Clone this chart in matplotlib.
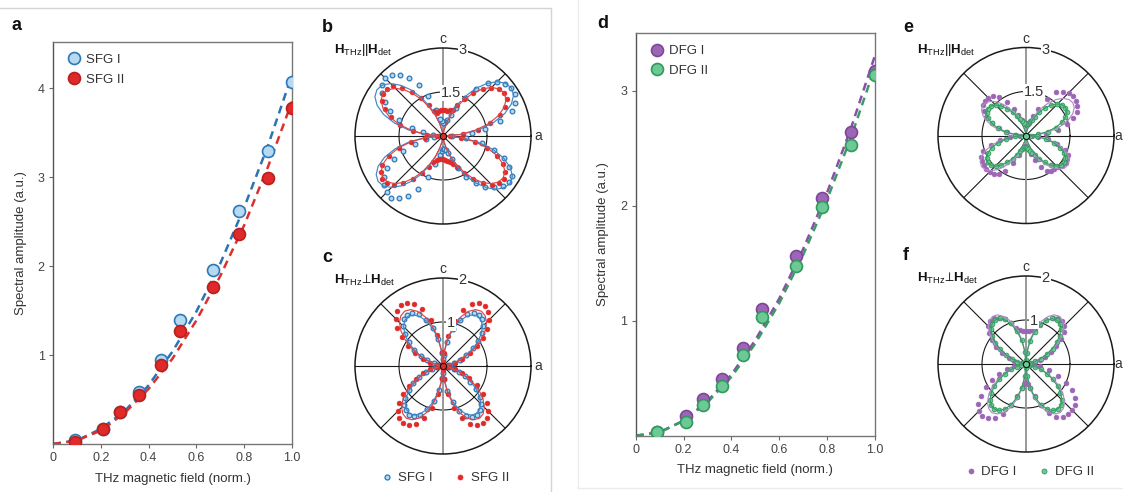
import numpy as np
import matplotlib
matplotlib.use("Agg")
import matplotlib.pyplot as plt
from matplotlib.lines import Line2D

plt.rcParams['font.family'] = ['Liberation Sans', 'DejaVu Sans']
plt.rcParams['mathtext.fontset'] = 'custom'
plt.rcParams['mathtext.rm'] = 'Liberation Sans'
plt.rcParams['mathtext.bf'] = 'Liberation Sans:bold'
plt.rcParams['mathtext.it'] = 'Liberation Sans:italic'
plt.rcParams['mathtext.fallback'] = 'stixsans'

# ---------------- field dependence (panels a and d) ----------------
field = [0.09, 0.21, 0.28, 0.36, 0.45, 0.53, 0.67, 0.78, 0.90, 1.00]
sfg1_amp = [0.04, 0.17, 0.36, 0.59, 0.95, 1.39, 1.96, 2.62, 3.30, 4.07]
sfg2_amp = [0.02, 0.17, 0.36, 0.55, 0.89, 1.27, 1.76, 2.36, 2.99, 3.78]
dfg1_amp = [0.03, 0.17, 0.32, 0.49, 0.76, 1.10, 1.56, 2.07, 2.64, 3.17]
dfg2_amp = [0.03, 0.12, 0.27, 0.43, 0.70, 1.03, 1.48, 1.99, 2.53, 3.14]

# fitted curves, sampled along the field axis
fit_field = [0.0, 0.1, 0.2, 0.3, 0.4, 0.5, 0.6, 0.7, 0.8, 0.9, 1.0]
sfg1_fit = [0.00, 0.04, 0.17, 0.37, 0.66, 1.04, 1.49, 2.03, 2.66, 3.36, 4.15]
sfg2_fit = [0.00, 0.04, 0.15, 0.35, 0.62, 0.96, 1.39, 1.89, 2.46, 3.12, 3.85]
dfg1_fit = [0.00, 0.03, 0.13, 0.30, 0.53, 0.83, 1.19, 1.62, 2.11, 2.67, 3.30]
dfg2_fit = [0.00, 0.03, 0.13, 0.29, 0.51, 0.80, 1.15, 1.57, 2.05, 2.59, 3.20]

field_ticks = [0, 0.2, 0.4, 0.6, 0.8, 1.0]
field_ticklabels = ['0', '0.2', '0.4', '0.6', '0.8', '1.0']

# ---------------- polarization dependence (panels b, c, e, f) ----------------
# azimuth of the detected field, degrees (5 degree steps)
angle_deg = np.arange(0, 360, 5)

# b: SFG, H_THz || H_det
b_sfg1 = [0.30, 1.00, 1.45, 2.00, 2.50, 2.70, 2.84, 2.85, 2.75, 2.60, 2.38, 1.95, 1.50, 1.05, 0.75, 0.55, 0.48, 0.45,
          0.45, 0.50, 0.60, 0.90, 1.45, 1.90, 2.30, 2.55, 2.72, 2.78, 2.72, 2.55, 2.30, 2.00, 1.60, 1.10, 0.70, 0.35,
          0.10, 0.30, 0.60, 1.00, 1.45, 1.85, 2.20, 2.45, 2.62, 2.72, 2.74, 2.60, 2.38, 2.00, 1.50, 1.00, 0.65, 0.50,
          0.45, 0.45, 0.50, 0.60, 0.85, 1.20, 1.60, 1.95, 2.25, 2.45, 2.65, 2.75, 2.70, 2.50, 2.20, 1.80, 1.35, 0.80]
b_sfg2 = [0.25, 0.70, 1.20, 1.65, 2.05, 2.35, 2.50, 2.55, 2.50, 2.30, 2.10, 1.80, 1.45, 1.15, 0.95, 0.90, 0.88, 0.90,
          0.90, 0.88, 0.85, 0.80, 0.90, 1.15, 1.50, 1.85, 2.15, 2.40, 2.50, 2.50, 2.40, 2.20, 1.90, 1.50, 1.05, 0.55,
          0.20, 0.60, 1.10, 1.55, 1.95, 2.30, 2.45, 2.55, 2.50, 2.35, 2.10, 1.80, 1.45, 1.15, 0.95, 0.85, 0.80, 0.80,
          0.80, 0.82, 0.85, 0.90, 1.00, 1.15, 1.45, 1.80, 2.10, 2.35, 2.50, 2.55, 2.45, 2.25, 1.95, 1.55, 1.10, 0.60]
b_sfg1_fit = [0.00, 0.64, 1.25, 1.79, 2.24, 2.57, 2.78, 2.85, 2.79, 2.62, 2.34, 2.00, 1.60, 1.20, 0.82, 0.48, 0.22, 0.06,
              0.00, 0.06, 0.21, 0.46, 0.79, 1.16, 1.55, 1.93, 2.26, 2.53, 2.70, 2.75, 2.68, 2.48, 2.16, 1.72, 1.20, 0.62,
              0.00, 0.61, 1.18, 1.69, 2.12, 2.44, 2.63, 2.70, 2.65, 2.48, 2.22, 1.89, 1.52, 1.14, 0.77, 0.45, 0.21, 0.05,
              0.00, 0.06, 0.22, 0.47, 0.80, 1.18, 1.57, 1.96, 2.30, 2.57, 2.74, 2.80, 2.73, 2.53, 2.20, 1.76, 1.22, 0.63]
b_sfg2_fit = [0.00, 0.57, 1.11, 1.60, 2.00, 2.30, 2.48, 2.55, 2.50, 2.34, 2.10, 1.79, 1.43, 1.07, 0.73, 0.43, 0.20, 0.05,
              0.00, 0.05, 0.19, 0.42, 0.72, 1.05, 1.41, 1.75, 2.06, 2.30, 2.45, 2.50, 2.44, 2.26, 1.96, 1.57, 1.09, 0.56,
              0.00, 0.56, 1.09, 1.57, 1.96, 2.26, 2.44, 2.50, 2.45, 2.30, 2.06, 1.75, 1.41, 1.05, 0.72, 0.42, 0.19, 0.05,
              0.00, 0.05, 0.19, 0.42, 0.72, 1.05, 1.41, 1.75, 2.06, 2.30, 2.45, 2.50, 2.44, 2.26, 1.96, 1.57, 1.09, 0.56]

# c: SFG, H_THz perp H_det
c_sfg1 = [0.15, 0.12, 0.15, 0.25, 0.40, 0.58, 0.80, 0.98, 1.15, 1.28, 1.38, 1.42, 1.40, 1.30, 1.12, 0.88, 0.55, 0.25,
          0.15, 0.30, 0.62, 0.90, 1.12, 1.30, 1.40, 1.42, 1.38, 1.28, 1.12, 0.95, 0.75, 0.55, 0.38, 0.22, 0.15, 0.12,
          0.15, 0.12, 0.15, 0.25, 0.42, 0.60, 0.78, 0.95, 1.12, 1.25, 1.32, 1.35, 1.32, 1.22, 1.05, 0.82, 0.55, 0.28,
          0.15, 0.30, 0.58, 0.85, 1.08, 1.25, 1.33, 1.36, 1.32, 1.22, 1.10, 0.92, 0.72, 0.55, 0.38, 0.25, 0.15, 0.12]
c_sfg2 = [0.10, 0.08, 0.12, 0.28, 0.45, 0.68, 0.90, 1.12, 1.32, 1.48, 1.60, 1.66, 1.65, 1.55, 1.35, 1.05, 0.70, 0.30,
          0.10, 0.32, 0.72, 1.08, 1.38, 1.55, 1.65, 1.68, 1.62, 1.50, 1.35, 1.15, 0.92, 0.70, 0.48, 0.30, 0.15, 0.10,
          0.10, 0.10, 0.15, 0.30, 0.48, 0.68, 0.90, 1.12, 1.30, 1.45, 1.55, 1.58, 1.55, 1.45, 1.25, 0.98, 0.65, 0.30,
          0.10, 0.30, 0.65, 0.98, 1.25, 1.45, 1.55, 1.58, 1.55, 1.45, 1.30, 1.10, 0.88, 0.66, 0.45, 0.28, 0.14, 0.10]
c_sfg1_fit = [0.00, 0.03, 0.11, 0.23, 0.39, 0.58, 0.78, 0.97, 1.13, 1.27, 1.35, 1.38, 1.34, 1.24, 1.08, 0.87, 0.60, 0.31,
              0.00, 0.31, 0.60, 0.87, 1.08, 1.24, 1.34, 1.38, 1.35, 1.27, 1.13, 0.97, 0.78, 0.58, 0.39, 0.23, 0.11, 0.03,
              0.00, 0.03, 0.10, 0.22, 0.38, 0.56, 0.74, 0.92, 1.09, 1.21, 1.29, 1.32, 1.29, 1.19, 1.04, 0.83, 0.58, 0.30,
              0.00, 0.30, 0.58, 0.83, 1.04, 1.19, 1.29, 1.32, 1.29, 1.21, 1.09, 0.92, 0.74, 0.56, 0.38, 0.22, 0.10, 0.03]
c_sfg2_fit = [0.00, 0.03, 0.12, 0.26, 0.43, 0.64, 0.85, 1.06, 1.25, 1.40, 1.49, 1.52, 1.48, 1.37, 1.19, 0.95, 0.66, 0.34,
              0.00, 0.34, 0.66, 0.95, 1.19, 1.37, 1.48, 1.52, 1.49, 1.40, 1.25, 1.06, 0.85, 0.64, 0.43, 0.26, 0.12, 0.03,
              0.00, 0.03, 0.11, 0.24, 0.41, 0.61, 0.81, 1.02, 1.19, 1.33, 1.42, 1.45, 1.41, 1.31, 1.14, 0.91, 0.63, 0.33,
              0.00, 0.33, 0.63, 0.91, 1.14, 1.31, 1.41, 1.45, 1.42, 1.33, 1.19, 1.02, 0.81, 0.61, 0.41, 0.24, 0.11, 0.03]

# e: DFG, H_THz || H_det
e_dfg1 = [0.20, 0.70, 1.10, 1.45, 1.72, 1.90, 2.00, 2.08, 2.10, 2.05, 1.95, 1.80, 1.45, 1.00, 0.70, 0.50, 0.40, 0.35,
          0.35, 0.40, 0.45, 0.55, 0.75, 1.00, 1.30, 1.60, 1.76, 1.82, 1.84, 1.80, 1.65, 1.50, 1.25, 0.95, 0.65, 0.35,
          0.20, 0.55, 0.90, 1.25, 1.55, 1.70, 1.74, 1.76, 1.76, 1.75, 1.70, 1.62, 1.40, 1.05, 0.70, 0.45, 0.38, 0.35,
          0.35, 0.40, 0.50, 0.65, 0.90, 1.20, 1.40, 1.46, 1.50, 1.54, 1.60, 1.65, 1.62, 1.57, 1.40, 1.10, 0.75, 0.40]
e_dfg2 = [0.15, 0.40, 0.75, 1.05, 1.30, 1.48, 1.60, 1.64, 1.60, 1.50, 1.35, 1.15, 0.92, 0.70, 0.55, 0.45, 0.42, 0.40,
          0.40, 0.42, 0.45, 0.50, 0.60, 0.75, 0.92, 1.12, 1.30, 1.45, 1.55, 1.58, 1.55, 1.42, 1.25, 1.00, 0.70, 0.38,
          0.15, 0.38, 0.70, 1.00, 1.25, 1.42, 1.55, 1.58, 1.55, 1.45, 1.30, 1.12, 0.92, 0.72, 0.58, 0.48, 0.42, 0.40,
          0.40, 0.42, 0.48, 0.55, 0.62, 0.75, 0.92, 1.12, 1.30, 1.45, 1.55, 1.58, 1.55, 1.42, 1.25, 1.00, 0.70, 0.38]
e_dfg1_fit = [0.00, 0.44, 0.85, 1.22, 1.53, 1.76, 1.90, 1.95, 1.91, 1.79, 1.60, 1.37, 1.10, 0.82, 0.56, 0.33, 0.15, 0.04,
              0.00, 0.04, 0.14, 0.30, 0.51, 0.76, 1.01, 1.26, 1.48, 1.65, 1.76, 1.80, 1.75, 1.62, 1.41, 1.13, 0.79, 0.41,
              0.00, 0.42, 0.81, 1.16, 1.45, 1.67, 1.80, 1.85, 1.81, 1.70, 1.52, 1.30, 1.04, 0.78, 0.53, 0.31, 0.14, 0.04,
              0.00, 0.04, 0.13, 0.29, 0.50, 0.74, 0.98, 1.23, 1.44, 1.61, 1.72, 1.75, 1.70, 1.58, 1.37, 1.10, 0.76, 0.39]
e_dfg2_fit = [0.00, 0.37, 0.72, 1.03, 1.30, 1.49, 1.61, 1.65, 1.62, 1.52, 1.36, 1.16, 0.93, 0.69, 0.47, 0.28, 0.13, 0.03,
              0.00, 0.03, 0.12, 0.27, 0.46, 0.67, 0.90, 1.12, 1.32, 1.47, 1.57, 1.60, 1.56, 1.44, 1.26, 1.00, 0.70, 0.36,
              0.00, 0.36, 0.70, 1.00, 1.26, 1.44, 1.56, 1.60, 1.57, 1.47, 1.32, 1.12, 0.90, 0.67, 0.46, 0.27, 0.12, 0.03,
              0.00, 0.03, 0.12, 0.27, 0.46, 0.67, 0.90, 1.12, 1.32, 1.47, 1.57, 1.60, 1.56, 1.44, 1.26, 1.00, 0.70, 0.36]

# f: DFG, H_THz perp H_det
f_dfg1 = [0.10, 0.12, 0.20, 0.32, 0.45, 0.62, 0.80, 0.98, 1.12, 1.22, 1.28, 1.28, 1.22, 1.10, 0.95, 0.82, 0.78, 0.76,
          0.75, 0.76, 0.78, 0.85, 0.98, 1.12, 1.22, 1.28, 1.28, 1.22, 1.10, 0.95, 0.78, 0.60, 0.42, 0.28, 0.18, 0.12,
          0.10, 0.15, 0.28, 0.45, 0.65, 0.85, 1.05, 1.25, 1.42, 1.52, 1.54, 1.50, 1.42, 1.25, 1.00, 0.75, 0.55, 0.45,
          0.40, 0.45, 0.55, 0.75, 1.00, 1.22, 1.38, 1.46, 1.49, 1.48, 1.45, 1.36, 1.20, 1.00, 0.78, 0.55, 0.32, 0.18]
f_dfg2 = [0.08, 0.08, 0.12, 0.22, 0.36, 0.52, 0.70, 0.86, 1.00, 1.12, 1.20, 1.23, 1.20, 1.10, 0.96, 0.76, 0.52, 0.25,
          0.10, 0.28, 0.55, 0.78, 0.98, 1.12, 1.20, 1.23, 1.20, 1.12, 1.00, 0.85, 0.68, 0.50, 0.34, 0.20, 0.10, 0.08,
          0.08, 0.08, 0.12, 0.22, 0.36, 0.52, 0.70, 0.88, 1.03, 1.15, 1.22, 1.25, 1.22, 1.12, 0.98, 0.78, 0.55, 0.28,
          0.10, 0.28, 0.55, 0.78, 0.98, 1.12, 1.22, 1.25, 1.22, 1.15, 1.02, 0.88, 0.70, 0.52, 0.36, 0.22, 0.10, 0.08]
f_dfg1_fit = [0.00, 0.03, 0.10, 0.22, 0.38, 0.56, 0.74, 0.92, 1.09, 1.21, 1.29, 1.32, 1.29, 1.19, 1.04, 0.83, 0.58, 0.30,
              0.00, 0.30, 0.58, 0.83, 1.04, 1.19, 1.29, 1.32, 1.29, 1.21, 1.09, 0.92, 0.74, 0.56, 0.38, 0.22, 0.10, 0.03,
              0.00, 0.03, 0.10, 0.23, 0.39, 0.57, 0.76, 0.95, 1.11, 1.24, 1.32, 1.35, 1.31, 1.22, 1.06, 0.85, 0.59, 0.30,
              0.00, 0.30, 0.59, 0.85, 1.06, 1.22, 1.31, 1.35, 1.32, 1.24, 1.11, 0.95, 0.76, 0.57, 0.39, 0.23, 0.10, 0.03]
f_dfg2_fit = [0.00, 0.02, 0.09, 0.20, 0.35, 0.51, 0.69, 0.85, 1.00, 1.12, 1.20, 1.22, 1.19, 1.10, 0.96, 0.76, 0.53, 0.27,
              0.00, 0.27, 0.53, 0.76, 0.96, 1.10, 1.19, 1.22, 1.20, 1.12, 1.00, 0.85, 0.69, 0.51, 0.35, 0.20, 0.09, 0.02,
              0.00, 0.03, 0.10, 0.21, 0.36, 0.53, 0.70, 0.88, 1.03, 1.15, 1.23, 1.25, 1.22, 1.13, 0.98, 0.78, 0.55, 0.28,
              0.00, 0.28, 0.55, 0.78, 0.98, 1.13, 1.22, 1.25, 1.23, 1.15, 1.03, 0.88, 0.70, 0.53, 0.36, 0.21, 0.10, 0.03]

# ---------------- colours ----------------
BLUE_EDGE, BLUE_FILL, BLUE_LINE = '#2e78b7', '#b5daf2', '#3f86c6'
RED, RED_EDGE, RED_LINE = '#e02a2a', '#b81f1f', '#e04444'
PURPLE, PURPLE_EDGE, PURPLE_LINE = '#9d65b5', '#7d4698', '#b48ac9'
GREEN, GREEN_EDGE, GREEN_LINE = '#6cc895', '#2f9a5a', '#33a062'
TXT = '#333333'

W, H = 1123, 492
fig = plt.figure(figsize=(W / 100, H / 100), dpi=100)


def px_rect(x0, y0, x1, y1):
    return [x0 / W, 1 - y1 / H, (x1 - x0) / W, (y1 - y0) / H]


def fx(x):
    return x / W


def fy(y):
    return 1 - y / H


# panel frames
fig.add_artist(Line2D([0, fx(551)], [fy(8.3), fy(8.3)], color='#d4d4d4', lw=1))
fig.add_artist(Line2D([fx(551), fx(551)], [fy(8.3), 0], color='#d4d4d4', lw=1))
fig.add_artist(Line2D([fx(578), fx(578)], [1, fy(488)], color='#ececec', lw=1))
fig.add_artist(Line2D([fx(578), 1], [fy(488), fy(488)], color='#ececec', lw=1))


def field_panel(rect, ymax, yticks, s1, s2, f1, f2, st1, st2, lab1, lab2):
    ax = fig.add_axes(rect)
    ax.plot(fit_field, f1, ls=(0, (3.2, 2.2)), color=st1['line'], lw=1.8, zorder=2)
    ax.plot(fit_field, f2, ls=(0, (3.2, 2.2)), color=st2['line'], lw=1.8, zorder=2)
    ax.plot(field, s1, ls='none', marker='o', ms=8.6, mfc=st1['fill'], mec=st1['edge'],
            mew=1.2, label=lab1, zorder=3)
    ax.plot(field, s2, ls='none', marker='o', ms=8.6, mfc=st2['fill'], mec=st2['edge'],
            mew=1.2, label=lab2, zorder=3)
    ax.set_xlim(0, 1)
    ax.set_ylim(0, ymax)
    ax.set_xticks(field_ticks)
    ax.set_xticklabels(field_ticklabels)
    ax.set_yticks(yticks)
    ax.tick_params(direction='out', length=3, width=0.8, color='#666666',
                   labelsize=9, labelcolor='#444444', pad=3)
    for sp in ax.spines.values():
        sp.set_color('#777777')
        sp.set_linewidth(1.0)
    ax.spines['left'].set_color('#555555')
    ax.set_xlabel('THz magnetic field (norm.)', fontsize=9.5, color=TXT, labelpad=6)
    ax.set_ylabel('Spectral amplitude (a.u.)', fontsize=9.5, color=TXT, labelpad=8)
    ax.legend(loc='upper left', frameon=False, fontsize=9.5, handletextpad=0.2,
              borderaxespad=0.3, labelspacing=0.55, borderpad=0.6, handlelength=1.4,
              labelcolor=TXT)
    return ax


sty_sfg1 = dict(fill=BLUE_FILL, edge=BLUE_EDGE, line='#2b73b3')
sty_sfg2 = dict(fill=RED, edge=RED_EDGE, line='#dc3030')
sty_dfg1 = dict(fill=PURPLE, edge=PURPLE_EDGE, line='#8a4fa6')
sty_dfg2 = dict(fill=GREEN, edge=GREEN_EDGE, line='#3a9c64')

field_panel(px_rect(53, 42, 292, 444), 4.52, [1, 2, 3, 4], sfg1_amp, sfg2_amp,
            sfg1_fit, sfg2_fit, sty_sfg1, sty_sfg2, 'SFG I', 'SFG II')
field_panel(px_rect(635.7, 33.3, 874.7, 435.7), 3.5, [1, 2, 3], dfg1_amp, dfg2_amp,
            dfg1_fit, dfg2_fit, sty_dfg1, sty_dfg2, 'DFG I', 'DFG II')


def polar_panel(cx, cy, rmax, rmid, midlab, maxlab, d1, d2, f1, f2, m1, m2, l1, l2, title, a_gap):
    R = 88
    ax = fig.add_axes(px_rect(cx - R, cy - R, cx + R, cy + R), projection='polar')
    ax.set_ylim(0, rmax)
    ax.set_thetagrids([0, 45, 135, 180, 225, 315], labels=[])
    ax.set_rgrids([rmid], labels=[])
    ax.grid(True, color='#1a1a1a', lw=0.8)
    ax.set_axisbelow(True)
    ax.spines['polar'].set_color('#1a1a1a')
    ax.spines['polar'].set_linewidth(1.1)
    ax.plot([np.pi / 2, np.pi / 2], [0, rmax], color='#999999', lw=1.4, zorder=1)
    ax.plot([3 * np.pi / 2, 3 * np.pi / 2], [0, rmax], color='#999999', lw=1.4, zorder=1)
    th = np.deg2rad(angle_deg)
    ax.plot(th, d1, ls='none', marker='o', ms=3.4, **m1, zorder=3)
    ax.plot(th, d2, ls='none', marker='o', ms=3.4, **m2, zorder=3)
    thc = np.append(th, th[0])
    ax.plot(thc, np.append(f1, f1[0]), color=l1, lw=0.85, zorder=4)
    ax.plot(thc, np.append(f2, f2[0]), color=l2, lw=0.85, zorder=4)
    ax.plot(0, 0, ls='none', marker='o', ms=4.5, mfc=m2['mfc'], mec='#111111', mew=0.8, zorder=5)
    box = dict(fc='white', ec='none', pad=0.6)
    ax.text(np.deg2rad(77), rmax, maxlab, ha='center', va='center', fontsize=10.5,
            color=TXT, bbox=box, zorder=6)
    ax.text(np.deg2rad(79), rmid, midlab, ha='center', va='center', fontsize=10.5,
            color=TXT, bbox=box, zorder=6)
    ax.text(np.pi / 2, rmax * 1.1, 'c', ha='center', va='center', fontsize=10, color=TXT)
    ax.annotate('a', xy=(0, rmax), xytext=(a_gap, 0), textcoords='offset points',
                ha='left', va='center', fontsize=10, color=TXT)
    fig.text(fx(cx - 109), fy(cy - 86), title, ha='left', va='center', fontsize=9.5, color='#111111')
    return ax


title_par = r'$\mathbf{H}_{\mathrm{THz}}\mathrm{||}\mathbf{H}_{\mathrm{det}}$'
title_perp = r'$\mathbf{H}_{\mathrm{THz}}\!\perp\!\mathbf{H}_{\mathrm{det}}$'

dot_sfg1 = dict(mfc=BLUE_FILL, mec=BLUE_EDGE, mew=0.9)
dot_sfg2 = dict(mfc=RED, mec=RED, mew=0.5)
dot_dfg1 = dict(mfc=PURPLE, mec=PURPLE, mew=0.5)
dot_dfg2 = dict(mfc=GREEN, mec=GREEN_EDGE, mew=0.6)

polar_panel(443, 136, 3.0, 1.5, '1.5', '3', b_sfg1, b_sfg2, b_sfg1_fit, b_sfg2_fit,
            dot_sfg1, dot_sfg2, BLUE_LINE, RED_LINE, title_par, 2.5)
polar_panel(443, 366, 2.0, 1.0, '1', '2', c_sfg1, c_sfg2, c_sfg1_fit, c_sfg2_fit,
            dot_sfg1, dot_sfg2, BLUE_LINE, RED_LINE, title_perp, 2.5)
polar_panel(1026, 135.5, 3.0, 1.5, '1.5', '3', e_dfg1, e_dfg2, e_dfg1_fit, e_dfg2_fit,
            dot_dfg1, dot_dfg2, PURPLE_LINE, GREEN_LINE, title_par, 0.6)
polar_panel(1026, 364, 2.0, 1.0, '1', '2', f_dfg1, f_dfg2, f_dfg1_fit, f_dfg2_fit,
            dot_dfg1, dot_dfg2, PURPLE_LINE, GREEN_LINE, title_perp, 0.6)

# legends under the perpendicular-geometry polar plots
for (x, y, ma, mb, la, lb) in [(445, 478, dot_sfg1, dot_sfg2, 'SFG I', 'SFG II'),
                                (1029, 472, dot_dfg1, dot_dfg2, 'DFG I', 'DFG II')]:
    handles = [Line2D([], [], ls='none', marker='o', ms=3.6, **ma),
               Line2D([], [], ls='none', marker='o', ms=3.6, **mb)]
    fig.legend(handles, [la, lb], loc='center', bbox_to_anchor=(fx(x), fy(y)), ncol=2,
               frameon=False, fontsize=9.5, handletextpad=0.3, columnspacing=1.6,
               handlelength=1.0, labelcolor=TXT)

# panel letters
for lab, x, y in [('a', 17, 25), ('b', 327, 27), ('c', 327, 257), ('d', 603, 24),
                  ('e', 908, 27), ('f', 906, 256)]:
    fig.text(fx(x), fy(y), lab, ha='center', va='center', fontsize=13, fontweight='bold',
             color='#111111')

fig.savefig('out.png', dpi=100, facecolor='white')
